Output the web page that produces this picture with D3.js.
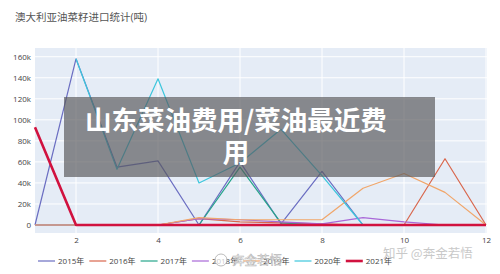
<!DOCTYPE html>
<html>
<head>
<meta charset="utf-8">
<script src="https://cdn.jsdelivr.net/npm/d3@7"></script>
<style>
  html, body { margin: 0; padding: 0; background: #fff; }
  svg { display: block; font-family: "Open Sans", "Noto Sans CJK SC", sans-serif; }
</style>
</head>
<body>
<svg id="chart" width="500" height="274"></svg>
<script>
// months on the x axis
var months = [1, 2, 3, 4, 5, 6, 7, 8, 9, 10, 11, 12];
var xTicks = [2, 4, 6, 8, 10, 12];
var yTicks = [0, 20000, 40000, 60000, 80000, 100000, 120000, 140000, 160000];

// series names, in legend order
var years = ['2015年', '2016年', '2017年', '2018年', '2019年', '2020年', '2021年'];

// imports per month (tons)
var v2015 = [0, 158000, 55000, 61000, 0, 60000, 1000, 51000, 0, 0, 0, 0];
var v2016 = [0, 0, 0, 0, 6000, 3000, 2000, 1000, 0, 0, 63000, 0];
var v2017 = [0, 0, 0, 0, 0, 55000, 2000, 0, 0, 0, 0, 0];
var v2018 = [0, 0, 0, 0, 6000, 5000, 3000, 1000, 7000, 3000, 0, 0];
var v2019 = [0, 0, 0, 0, 7000, 5000, 5000, 5000, 35000, 49000, 31000, 0];
var v2020 = [null, 158000, 53000, 139000, 40000, 59000, 91000, 47000, 0, null, null, null];
var v2021 = [93000, 0, 0, 0, 0, 0, 0, 0, 0, 0, 0, 0];

var seriesValues = [v2015, v2016, v2017, v2018, v2019, v2020, v2021];
var colors = ['#6b6ec2', '#d9674d', '#26a58a', '#a968d8', '#f1a66a', '#3cc6dc', '#d1123f'];
var widths = [1.2, 1.2, 1.2, 1.2, 1.2, 1.2, 2.6];

var svg = d3.select('#chart');

var plot = {left: 35, top: 48, right: 487, bottom: 233};

var x = d3.scaleLinear().domain([1, 12]).range([35, 486]);
var y = d3.scaleLinear().domain([-7600, 168300]).range([plot.bottom, plot.top]);

// title
svg.append('text')
  .attr('x', 15)
  .attr('y', 21)
  .attr('font-size', 10.5)
  .attr('fill', '#555')
  .text('澳大利亚油菜籽进口统计(吨)');

// plot background
svg.append('rect')
  .attr('x', plot.left)
  .attr('y', plot.top)
  .attr('width', plot.right - plot.left)
  .attr('height', plot.bottom - plot.top)
  .attr('fill', '#e5ecf6');

// grid lines
var grid = svg.append('g').attr('class', 'grid');
grid.selectAll('line.gx')
  .data(xTicks)
  .enter()
  .append('line')
  .attr('class', 'gx')
  .attr('x1', function (d) { return x(d); })
  .attr('x2', function (d) { return x(d); })
  .attr('y1', plot.top)
  .attr('y2', plot.bottom)
  .attr('stroke', '#fff')
  .attr('stroke-width', 1);
grid.selectAll('line.gy')
  .data(yTicks)
  .enter()
  .append('line')
  .attr('class', 'gy')
  .attr('x1', plot.left)
  .attr('x2', plot.right)
  .attr('y1', function (d) { return y(d); })
  .attr('y2', function (d) { return y(d); })
  .attr('stroke', '#fff')
  .attr('stroke-width', function (d) { return d === 0 ? 2 : 1; });

// axes, plotly style: labels only
var yAxis = d3.axisLeft(y).tickValues(yTicks).tickFormat(d3.format('~s')).tickSize(0).tickPadding(4);
var xAxis = d3.axisBottom(x).tickValues(xTicks).tickSize(0).tickPadding(4);

svg.append('g')
  .attr('transform', 'translate(' + plot.left + ',0)')
  .call(yAxis)
  .call(function (g) { g.select('.domain').remove(); })
  .selectAll('text')
  .attr('font-size', 8)
  .attr('fill', '#444')
  .attr('font-family', '"Open Sans", sans-serif');

svg.append('g')
  .attr('transform', 'translate(0,' + plot.bottom + ')')
  .call(xAxis)
  .call(function (g) { g.select('.domain').remove(); })
  .selectAll('text')
  .attr('font-size', 8)
  .attr('fill', '#444')
  .attr('font-family', '"Open Sans", sans-serif');

// series lines
var line = d3.line()
  .defined(function (d) { return d !== null; })
  .x(function (d, i) { return x(months[i]); })
  .y(function (d) { return y(d); });

svg.append('g')
  .attr('class', 'series')
  .selectAll('path')
  .data(seriesValues)
  .enter()
  .append('path')
  .attr('d', line)
  .attr('fill', 'none')
  .attr('stroke', function (d, i) { return colors[i]; })
  .attr('stroke-width', function (d, i) { return widths[i]; })
  .attr('stroke-linejoin', 'round');

// legend
var legend = svg.append('g')
  .attr('class', 'legend')
  .selectAll('g')
  .data(years)
  .enter()
  .append('g')
  .attr('transform', function (d, i) { return 'translate(' + (38 + i * 51.3) + ',261)'; });

legend.append('line')
  .attr('x1', 0)
  .attr('x2', 17)
  .attr('stroke', function (d, i) { return colors[i]; })
  .attr('stroke-width', function (d, i) { return widths[i]; });

legend.append('text')
  .attr('x', 20)
  .attr('y', 3)
  .attr('font-size', 8)
  .attr('fill', '#444')
  .text(function (d) { return d; });

// watermarks
var wb = svg.append('g').attr('class', 'weibo');
wb.append('circle')
  .attr('cx', 221)
  .attr('cy', 260)
  .attr('r', 6)
  .attr('fill', 'rgba(255,255,255,0.7)')
  .attr('stroke', '#aaa')
  .attr('stroke-width', 0.8);
wb.append('text')
  .attr('x', 232)
  .attr('y', 265)
  .attr('font-size', 12.5)
  .attr('font-family', '"Noto Sans CJK SC", sans-serif')
  .attr('fill', 'rgba(255,255,255,0.75)')
  .attr('stroke', '#b5b5b5')
  .attr('stroke-width', 0.5)
  .text('奔金若悟');

svg.append('text')
  .attr('x', 383)
  .attr('y', 258)
  .attr('font-size', 12.5)
  .attr('font-family', '"Noto Sans CJK SC", sans-serif')
  .attr('fill', '#c9c9c9')
  .text('知乎 @奔金若悟');

// headline overlay box
svg.append('rect')
  .attr('x', 64)
  .attr('y', 97)
  .attr('width', 371)
  .attr('height', 80)
  .attr('fill', 'rgba(88,88,92,0.68)');

// two separate lines so they do not crowd each other
var headLines = ['山东菜油费用/菜油最近费', '用'];
svg.append('g')
  .attr('class', 'headline')
  .selectAll('text')
  .data(headLines)
  .enter()
  .append('text')
  .attr('x', 236)
  .attr('y', function (d, i) { return 130 + i * 32; })
  .attr('text-anchor', 'middle')
  .attr('font-size', 26.5)
  .attr('font-weight', 'bold')
  .attr('font-family', '"Noto Sans CJK SC", sans-serif')
  .attr('fill', '#fff')
  .text(function (d) { return d; });
</script>
</body>
</html>
